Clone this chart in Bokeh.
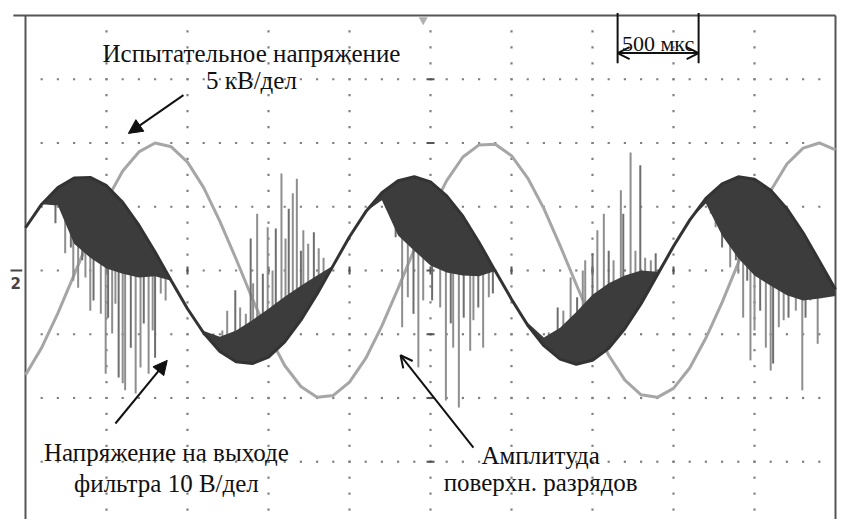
from bokeh.plotting import figure
from bokeh.models import Range1d, Arrow, NormalHead, OpenHead
from bokeh.embed import file_html
from bokeh.resources import INLINE
from bokeh.core.properties import value
import numpy as np

# ---- data (x: screen divisions, 1 div = 500 мкс; y: screen divisions) ----
T_DIV = [0.0, 0.2, 0.4, 0.6, 0.8, 1.0, 1.2, 1.4, 1.6, 1.8,
         2.0, 2.2, 2.4, 2.6, 2.8, 3.0, 3.2, 3.4, 3.6, 3.8,
         4.0, 4.2, 4.4, 4.6, 4.8, 5.0, 5.2, 5.4, 5.6, 5.8,
         6.0, 6.2, 6.4, 6.6, 6.8, 7.0, 7.2, 7.4, 7.6, 7.8,
         8.0, 8.2, 8.4, 8.6, 8.8, 9.0, 9.2, 9.4, 9.6, 9.8, 10.0]

# test voltage (5 кВ/дел)
TEST_VOLTAGE = [-1.64, -1.21, -0.67, -0.07, 0.54, 1.10, 1.56, 1.86, 2.00, 1.94,
                1.70, 1.30, 0.77, 0.18, -0.44, -1.01, -1.49, -1.82, -1.99, -1.96,
                -1.75, -1.38, -0.87, -0.28, 0.33, 0.91, 1.41, 1.78, 1.97, 1.98,
                1.80, 1.45, 0.97, 0.39, -0.22, -0.82, -1.33, -1.72, -1.95, -1.99,
                -1.85, -1.53, -1.06, -0.50, 0.12, 0.72, 1.25, 1.67, 1.92, 2.00, 1.89]

# filter output (10 В/дел), main trace
FILTER_OUT = [0.67, 1.04, 1.30, 1.45, 1.46, 1.33, 1.07, 0.71, 0.29, -0.16,
              -0.60, -0.98, -1.27, -1.43, -1.46, -1.36, -1.12, -0.78, -0.37, 0.08,
              0.53, 0.92, 1.22, 1.41, 1.47, 1.39, 1.17, 0.85, 0.44, -0.01,
              -0.45, -0.86, -1.18, -1.39, -1.47, -1.41, -1.22, -0.91, -0.52, -0.07,
              0.38, 0.79, 1.13, 1.36, 1.47, 1.43, 1.26, 0.97, 0.59, 0.15, -0.30]

# other edge of the dense discharge band around the filter output
FILTER_BAND = [0.67, 1.04, 1.02, 0.42, 0.20, 0.03, -0.05, -0.11, -0.09, -0.16,
               -0.60, -0.95, -1.04, -0.94, -0.78, -0.60, -0.41, -0.24, -0.08, 0.08,
               0.53, 0.92, 1.10, 0.55, 0.31, 0.08, -0.03, -0.08, -0.09, -0.01,
               -0.45, -0.82, -1.05, -0.90, -0.65, -0.38, -0.20, -0.08, 0.00, -0.02,
               0.38, 0.79, 1.05, 0.55, 0.19, -0.08, -0.24, -0.39, -0.47, -0.44, -0.40]

# surface discharge pulses: time and tip level
SPIKE_T = [0.37, 0.43, 0.49, 0.56, 0.59, 0.65, 0.70, 0.74, 0.80, 0.84, 0.93, 0.99, 1.02,
           1.07, 1.11, 1.15, 1.20, 1.23, 1.30, 1.36, 1.42, 1.46, 1.52, 1.57, 1.60, 1.67, 1.73,
           2.32, 2.43, 2.49, 2.59, 2.65, 2.72, 2.78, 2.81, 2.86, 2.93, 2.99, 3.05, 3.09,
           3.16, 3.21, 3.25, 3.30, 3.35, 3.40, 3.43, 3.49, 3.56, 3.62, 3.68,
           4.57, 4.65, 4.72, 4.79, 4.85, 4.91, 5.02, 5.12, 5.19, 5.25, 5.28, 5.35, 5.41,
           5.49, 5.53, 5.59, 5.65, 5.72, 5.77,
           6.33, 6.46, 6.57, 6.64, 6.73, 6.81, 6.88, 6.91, 7.00, 7.06, 7.14, 7.20, 7.26,
           7.35, 7.38, 7.47, 7.53, 7.59, 7.65, 7.72, 7.78,
           8.46, 8.52, 8.60, 8.67, 8.70, 8.77, 8.80, 8.86, 8.91, 8.95, 9.00, 9.07, 9.14,
           9.20, 9.23, 9.30, 9.36, 9.42, 9.51, 9.59, 9.63, 9.69, 9.78, 9.84]
SPIKE_END = [0.74, 0.99, 0.27, 0.36, -0.16, -0.27, 0.16, -0.11, -0.63, -0.47, -0.68, -1.62, -0.74,
             -0.99, -0.52, -1.68, -1.77, -1.88, -1.21, -1.93, -1.52, -0.83, -1.62, -0.94, -1.37, -0.36, -0.47,
             -0.99, -0.94, -0.63, -0.31, -0.58, -0.68, 0.50, -0.20, 0.89, -0.05, 0.68, 0.00, 0.66,
             1.52, 0.50, 0.97, 1.21, 1.44, 0.31, 0.63, 0.42, 0.60, 0.35, 0.20,
             0.52, -0.89, -0.42, -0.68, -1.52, -0.47, -0.47, -0.58, -2.04, -0.83, -1.21, -2.15, -0.74,
             -1.26, -0.78, -0.58, -1.21, -0.42, -0.36,
             -1.02, -0.97, -0.58, -0.63, -0.11, -0.42, 0.00, 0.16, 0.27, 0.63, 0.89, 0.31, 0.16,
             1.26, 0.89, 1.85, 0.31, 1.65, 0.20, 0.16, 0.27,
             0.89, 0.68, 0.36, 0.68, 0.05, 0.16, -0.05, -0.74, -0.16, -1.41, -0.94, -0.63, -1.21,
             -1.57, -1.46, -0.89, -0.78, -0.74, -0.63, -1.88, -0.74, -0.47, -1.15, -0.36]

SCALE_START = 7.31      # start of the 500 мкс marker (div)
SCALE_DIVS = 1.0        # 500 мкс = 1 div

LABEL_TEST = ["Испытательное напряжение", "5 кВ/дел"]
LABEL_FILTER = ["Напряжение на выходе", "фильтра 10 В/дел"]
LABEL_PD = ["Амплитуда", "поверхн. разрядов"]
LABEL_SCALE = "500 мкс"
CHANNEL = "2"

# ---- figure: plot area covers the whole canvas; screen frame is x 0..10, y -4..4 ----
p = figure(width=842, height=519, x_range=Range1d(-0.3086, 10.0864), y_range=Range1d(-3.906, 4.235),
           output_backend="svg", toolbar_location=None,
           x_axis_type=None, y_axis_type=None,
           min_border_left=0, min_border_right=0, min_border_top=0, min_border_bottom=0)
p.outline_line_color = None
p.background_fill_color = "white"
p.border_fill_color = "white"

# dotted graticule
hx, hy = [], []
for yy in [-3, -2, -1, 0, 1, 2, 3]:
    for k in range(1, 50):
        hx.append(k * 0.2)
        hy.append(yy)
for xx in range(1, 10):
    for k in range(-15, 16):
        hx.append(xx)
        hy.append(k * 0.25)
p.scatter(hx, hy, marker="square", size=2.2, fill_color="#808080", line_color=None)
p.scatter([5] * 7, [-3, -2, -1, 0, 1, 2, 3], marker="dash", size=8, line_color="#555555", line_width=2)
p.scatter(list(range(1, 10)), [0] * 9, marker="dash", angle=np.pi / 2, size=8,
          line_color="#555555", line_width=2)

# screen frame (bottom is off screen)
p.segment(x0=[0, -0.15, 10], y0=[-4, 4, -4], x1=[0, 10, 10], y1=[4, 4, 4],
          line_color="#555555", line_width=2)

# channel-2 ground marker
p.segment(x0=[-0.185], y0=[0], x1=[-0.04], y1=[0], line_color="#444444", line_width=2)
p.text(x=[-0.12], y=[-0.19], text=[CHANNEL], text_font=value("DejaVu Sans"), text_font_style="bold",
       text_font_size="15px", text_color="#444444", text_align="center", text_baseline="middle")

# test voltage trace
p.line(T_DIV, TEST_VOLTAGE, line_color="#a6a6a6", line_width=3)

# discharge pulses
spike_start = np.interp(SPIKE_T, T_DIV, FILTER_OUT)
cols = ["#8e8e8e" if i % 3 else "#6e6e6e" for i in range(len(SPIKE_T))]
p.segment(x0=SPIKE_T, y0=spike_start, x1=SPIKE_T, y1=SPIKE_END, line_color=cols, line_width=2)

# dense band and main filter trace
p.varea(x=T_DIV, y1=FILTER_OUT, y2=FILTER_BAND, fill_color="#3c3c3c")
p.line(T_DIV, FILTER_OUT, line_color="#333333", line_width=3)

# trigger marker
p.scatter([4.91], [3.93], marker="inverted_triangle", size=9, fill_color="#b0b0b0", line_color=None)

# 500 мкс marker
p.segment(x0=[SCALE_START, SCALE_START + SCALE_DIVS], y0=[4.04, 4.04],
          x1=[SCALE_START, SCALE_START + SCALE_DIVS], y1=[3.25, 3.25],
          line_color="#111111", line_width=2)
p.add_layout(Arrow(start=OpenHead(size=12, line_width=2, line_color="#111111"),
                   end=OpenHead(size=12, line_width=2, line_color="#111111"),
                   x_start=SCALE_START, y_start=3.41, x_end=SCALE_START + SCALE_DIVS, y_end=3.41,
                   line_width=2, line_color="#111111"))

font = value("Liberation Serif")
p.text(x=[SCALE_START + SCALE_DIVS / 2], y=[3.56], text=[LABEL_SCALE], text_font=font,
       text_font_size="22px", text_align="center", text_baseline="alphabetic", text_color="#111111")
p.text(x=[2.79, 2.79], y=[3.40, 2.98], text=LABEL_TEST, text_font=font,
       text_font_size="25px", text_align="center", text_baseline="alphabetic", text_color="#111111")
p.text(x=[1.74, 1.74], y=[-2.86, -3.34], text=LABEL_FILTER, text_font=font,
       text_font_size="25px", text_align="center", text_baseline="alphabetic", text_color="#111111")
p.text(x=[6.36, 6.36], y=[-2.90, -3.33], text=LABEL_PD, text_font=font,
       text_font_size="25px", text_align="center", text_baseline="alphabetic", text_color="#111111")

# pointer arrows
p.add_layout(Arrow(end=NormalHead(size=14, fill_color="#111111", line_color="#111111"),
                   x_start=1.95, y_start=2.75, x_end=1.27, y_end=2.15,
                   line_width=2, line_color="#111111"))
p.add_layout(Arrow(end=NormalHead(size=14, fill_color="#111111", line_color="#111111"),
                   x_start=1.11, y_start=-2.40, x_end=1.75, y_end=-1.41,
                   line_width=2, line_color="#111111"))
p.add_layout(Arrow(end=OpenHead(size=12, line_width=2, line_color="#111111"),
                   x_start=5.53, y_start=-2.78, x_end=4.63, y_end=-1.33,
                   line_width=2, line_color="#111111"))

open("out.html", "w").write(file_html(p, INLINE))
